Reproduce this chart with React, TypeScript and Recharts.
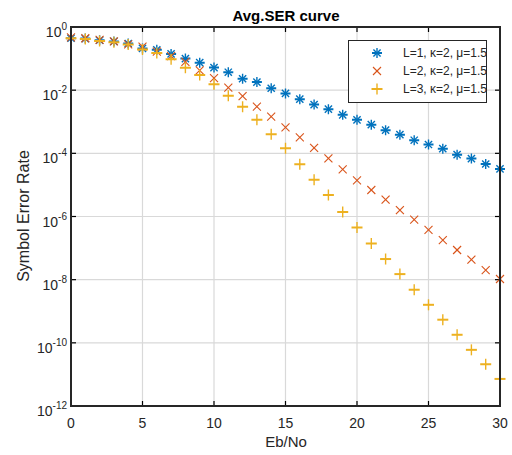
import React from "react";
import {
  ScatterChart,
  Scatter,
  XAxis,
  YAxis,
  CartesianGrid,
  ReferenceLine,
} from "recharts";

// Eb/No points (dB)
const ebNo = [
  0, 1, 2, 3, 4, 5, 6, 7, 8, 9, 10, 11, 12, 13, 14, 15, 16, 17, 18, 19, 20,
  21, 22, 23, 24, 25, 26, 27, 28, 29, 30,
];

// SER values
const serL1 = [
  4.4e-1, 4.3e-1, 3.8e-1, 3.5e-1, 3.0e-1, 2.1e-1, 1.9e-1, 1.4e-1, 1.0e-1,
  7.4e-2, 5.2e-2, 3.7e-2, 2.3e-2, 1.8e-2, 1.15e-2, 7.9e-3, 5.2e-3, 3.5e-3,
  2.5e-3, 1.66e-3, 1.15e-3, 8.1e-4, 5.4e-4, 3.9e-4, 2.6e-4, 1.9e-4, 1.4e-4,
  9.1e-5, 6.8e-5, 4.6e-5, 3.2e-5,
];
const serL2 = [
  4.7e-1, 4.4e-1, 3.9e-1, 3.5e-1, 2.8e-1, 2.4e-1, 1.66e-1, 1.2e-1, 7.9e-2,
  4.2e-2, 2.4e-2, 1.2e-2, 6.5e-3, 3.0e-3, 1.45e-3, 6.6e-4, 3.2e-4, 1.5e-4,
  6.9e-5, 3.1e-5, 1.4e-5, 6.9e-6, 3.4e-6, 1.6e-6, 7.9e-7, 3.8e-7, 1.8e-7,
  8.7e-8, 4.3e-8, 2.0e-8, 1.05e-8,
];
const serL3 = [
  4.4e-1, 4.2e-1, 3.6e-1, 3.3e-1, 2.8e-1, 1.95e-1, 1.5e-1, 9.5e-2, 5.1e-2,
  3.0e-2, 1.55e-2, 6.6e-3, 3.0e-3, 1.15e-3, 4.0e-4, 1.45e-4, 4.5e-5, 1.45e-5,
  4.8e-6, 1.4e-6, 4.5e-7, 1.4e-7, 4.5e-8, 1.5e-8, 4.8e-9, 1.6e-9, 5.4e-10,
  1.8e-10, 6.0e-11, 2.1e-11, 7.2e-12,
];

const seriesNames = ["L=1, \u03ba=2, \u03bc=1.5", "L=2, \u03ba=2, \u03bc=1.5", "L=3, \u03ba=2, \u03bc=1.5"];
const xTicks = [0, 5, 10, 15, 20, 25, 30];
const yExponents = [0, -2, -4, -6, -8, -10, -12];
const yTicks = yExponents.map((e) => Math.pow(10, e));
const xGrid = xTicks.slice(1, -1);
const yGrid = yTicks.slice(1, -1);

const FONT = "'Liberation Sans', Arial, sans-serif";
const AXIS = "#262626";
const TICK_COLOR = "black";
const COLORS = ["#0072BD", "#D95319", "#EDB120"];
const TICK = 5;

// chart box
const W = 512;
const H = 455;
const MARGIN = { top: 27, right: 12, left: 11, bottom: 19 };
const Y_AXIS_W = 60;
const X_AXIS_H = 30;

const toPoints = (ys: number[]) => ebNo.map((x, i) => ({ x, y: ys[i] }));

const Marker = ({ kind, cx, cy, color }: { kind: number; cx: number; cy: number; color: string }) => {
  if (kind === 0) {
    const r = 5;
    const d = 3.6;
    return (
      <g stroke={color} strokeWidth={1.4}>
        <line x1={cx - r} y1={cy} x2={cx + r} y2={cy} strokeWidth={2} />
        <line x1={cx} y1={cy - r} x2={cx} y2={cy + r} />
        <line x1={cx - d} y1={cy - d} x2={cx + d} y2={cy + d} />
        <line x1={cx - d} y1={cy + d} x2={cx + d} y2={cy - d} />
      </g>
    );
  }
  if (kind === 1) {
    const r = 4;
    return (
      <g stroke={color} strokeWidth={1.1}>
        <line x1={cx - r} y1={cy - r} x2={cx + r} y2={cy + r} />
        <line x1={cx - r} y1={cy + r} x2={cx + r} y2={cy - r} />
      </g>
    );
  }
  const r = 5.5;
  return (
    <g stroke={color}>
      <line x1={cx - r} y1={cy} x2={cx + r} y2={cy} strokeWidth={2} />
      <line x1={cx} y1={cy - r} x2={cx} y2={cy + r} strokeWidth={1.4} />
    </g>
  );
};

// inward tick marks at both ends of a vertical reference line
const VTicks = (p: any) => {
  const top = Math.min(p.y1, p.y2);
  const bottom = Math.max(p.y1, p.y2);
  return (
    <g>
      <line x1={p.x1} y1={top} x2={p.x1} y2={top + TICK} stroke={TICK_COLOR} strokeWidth={1.2} />
      <line x1={p.x1} y1={bottom} x2={p.x1} y2={bottom - TICK} stroke={TICK_COLOR} strokeWidth={1.2} />
    </g>
  );
};

// inward tick marks at both ends of a horizontal reference line
const HTicks = (p: any) => {
  const left = Math.min(p.x1, p.x2);
  const right = Math.max(p.x1, p.x2);
  return (
    <g>
      <line x1={left} y1={p.y1} x2={left + TICK} y2={p.y1} stroke={TICK_COLOR} strokeWidth={1.2} />
      <line x1={right} y1={p.y1} x2={right - TICK} y2={p.y1} stroke={TICK_COLOR} strokeWidth={1.2} />
    </g>
  );
};

const XTick = (props: any) => {
  const { x, y, payload } = props;
  return (
    <text x={x} y={y + 22} textAnchor="middle" fontFamily={FONT} fontSize={14} fill={AXIS}>
      {payload.value}
    </text>
  );
};

const YTick = (props: any) => {
  const { x, y, payload } = props;
  const exp = Math.round(Math.log10(payload.value));
  return (
    <text x={x - 4} y={y + 10} textAnchor="end" fontFamily={FONT} fontSize={14} fill={AXIS}>
      <tspan>10</tspan>
      <tspan dy={-7} fontSize={10}>{exp}</tspan>
    </text>
  );
};

const LegendBox = () => (
  <div
    style={{
      position: "absolute",
      left: 348,
      top: 40,
      border: `1px solid ${AXIS}`,
      background: "#fff",
      width: 137,
      padding: "3px 0 4px 0",
      fontFamily: FONT,
      fontSize: 12,
      color: AXIS,
      boxSizing: "content-box",
    }}
  >
    {seriesNames.map((name, i) => (
      <div key={name} style={{ display: "flex", alignItems: "center", height: 18 }}>
        <svg width={54} height={18} style={{ flex: "none" }}>
          <Marker kind={i} cx={28} cy={9} color={COLORS[i]} />
        </svg>
        <span style={{ whiteSpace: "nowrap" }}>{name}</span>
      </div>
    ))}
  </div>
);

const textBase: React.CSSProperties = {
  position: "absolute",
  fontFamily: FONT,
  whiteSpace: "nowrap",
  textAlign: "center",
};

export default function App() {
  const series = [serL1, serL2, serL3];
  const plotLeft = MARGIN.left + Y_AXIS_W;
  const plotTop = MARGIN.top;
  const plotW = W - plotLeft - MARGIN.right;
  const plotH = H - MARGIN.top - MARGIN.bottom - X_AXIS_H;
  return (
    <div style={{ position: "absolute", left: 0, top: 0, width: W, height: H, background: "#fff" }}>
      <ScatterChart width={W} height={H} margin={MARGIN}>
        <CartesianGrid verticalValues={xGrid} horizontalValues={yGrid} stroke="#d9d9d9" strokeWidth={1.2} />
        <XAxis
          dataKey="x"
          type="number"
          domain={[0, 30]}
          ticks={xTicks}
          height={X_AXIS_H}
          tickSize={0}
          tickMargin={0}
          axisLine={false}
          tickLine={false}
          tick={<XTick />}
        />
        <YAxis
          dataKey="y"
          type="number"
          scale="log"
          domain={[1e-12, 1]}
          allowDataOverflow
          ticks={yTicks}
          width={Y_AXIS_W}
          tickSize={0}
          tickMargin={0}
          axisLine={false}
          tickLine={false}
          tick={<YTick />}
        />
        {xTicks.map((t) => (
          <ReferenceLine key={`x${t}`} x={t} stroke={TICK_COLOR} shape={(p: any) => <VTicks {...p} />} />
        ))}
        {yTicks.map((t) => (
          <ReferenceLine key={`y${t}`} y={t} stroke={TICK_COLOR} shape={(p: any) => <HTicks {...p} />} />
        ))}
        {series.map((ys, i) => (
          <Scatter
            key={seriesNames[i]}
            name={seriesNames[i]}
            data={toPoints(ys)}
            fill={COLORS[i]}
            isAnimationActive={false}
            shape={(p: any) => <Marker kind={i} cx={p.cx} cy={p.cy} color={COLORS[i]} />}
          />
        ))}
      </ScatterChart>
      {/* axes box */}
      <div
        style={{
          position: "absolute",
          left: plotLeft - 1,
          top: plotTop - 1,
          width: plotW + 2,
          height: plotH + 2,
          border: `2px solid ${AXIS}`,
          boxSizing: "border-box",
          pointerEvents: "none",
        }}
      />
      <div style={{ ...textBase, left: 186, width: 200, top: 8, fontSize: 15, lineHeight: "15px", fontWeight: "bold", color: "#000" }}>
        Avg.SER curve
      </div>
      <div style={{ ...textBase, left: 186, width: 200, top: 434, fontSize: 15, lineHeight: "15px", color: AXIS }}>
        Eb/No
      </div>
      <div
        style={{
          ...textBase,
          left: 24 - 100,
          top: 216 - 9,
          width: 200,
          height: 18,
          fontSize: 16,
          lineHeight: "18px",
          color: AXIS,
          transform: "rotate(-90deg)",
        }}
      >
        Symbol Error Rate
      </div>
      <LegendBox />
    </div>
  );
}
